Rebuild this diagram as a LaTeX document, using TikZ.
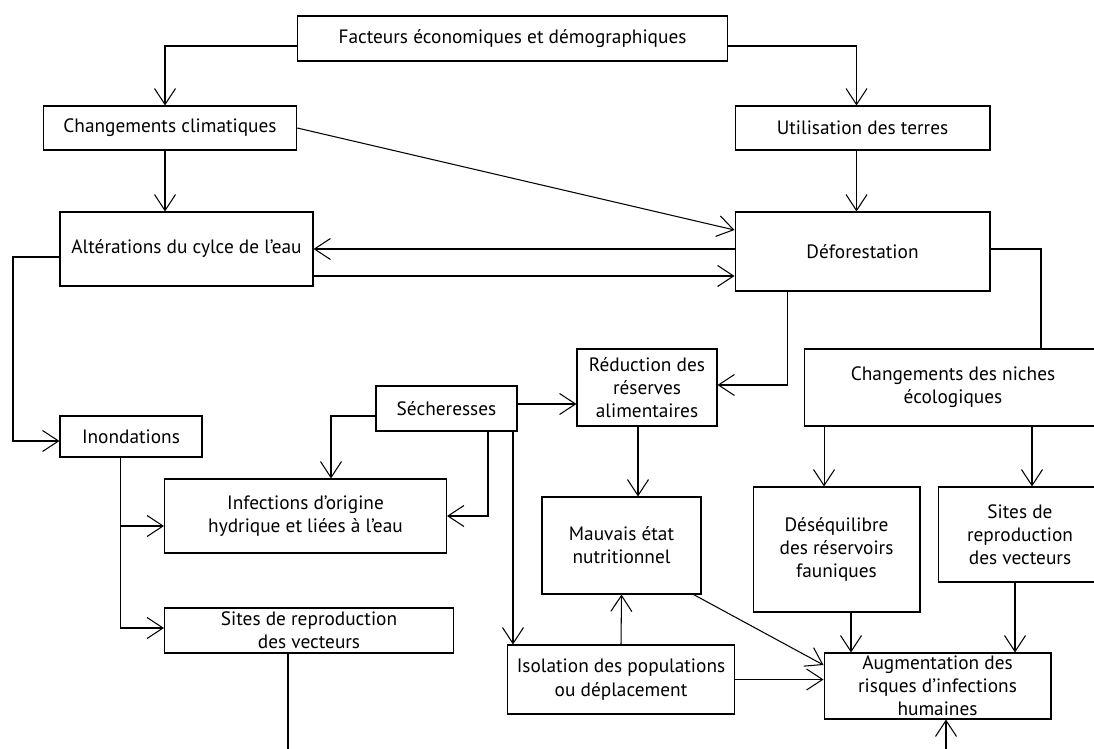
\documentclass[tikz,border=0pt]{standalone}
\usepackage{fontspec}
\setmainfont{PT Sans}
\usepackage{tikz}
\usetikzlibrary{arrows.meta, positioning, calc}
\tikzset{
	box/.style ={rectangle, draw=black, semithick, align=center, inner sep=2pt, font=\fontsize{11}{13.2}\selectfont},
	flow/.style={-{Straight Barb[length=3.2mm, width=4.2mm]}, semithick},
	link/.style={semithick},
}

\begin{document}
\begin{tikzpicture}[x=0.02cm, y=-0.02cm]
	\useasboundingbox (0,0) rectangle (1094,749);
	\clip (0,0) rectangle (1094,749);
	\node[box, minimum width=8.62cm, minimum height=0.9cm] (fact) at (512.5,38.5) {Facteurs économiques et démographiques};
	\node[box, minimum width=5.07cm, minimum height=0.88cm] (clim) at (170,128) {Changements climatiques};
	\node[box, minimum width=5.1cm, minimum height=0.88cm] (terres) at (862.5,128) {Utilisation des terres};
	\node[box, minimum width=5.06cm, minimum height=1.48cm] (alter) at (186.5,249) {Altérations du cylce de l’eau};
	\node[box, minimum width=5.1cm, minimum height=1.58cm] (defor) at (862.5,251.5) {Déforestation};
	\node[box, minimum width=2.8cm, minimum height=1.54cm, inner sep=0pt] (reduc) at (647,387.5) {Réduction des\\réserves\\alimentaires};
	\node[box, minimum width=5.96cm, minimum height=1.54cm] (niches) at (953,387.5) {Changements des niches\\écologiques};
	\node[box, minimum width=2.82cm, minimum height=0.9cm] (sech) at (446.5,408.5) {Sécheresses};
	\node[box, minimum width=2.84cm, minimum height=0.82cm] (inond) at (131,436.5) {Inondations};
	\node[box, minimum width=5.64cm, minimum height=1.48cm] (infect) at (305.5,516) {Infections d’origine\\hydrique et liées à l’eau};
	\node[box, minimum width=5.78cm, minimum height=0.9cm, inner sep=0pt] (sitesA) at (309,630.5) {Sites de reproduction\\des vecteurs};
	\node[box, minimum width=3.18cm, minimum height=1.94cm] (mauv) at (621.5,545.5) {Mauvais état\\nutritionnel};
	\node[box, minimum width=3.34cm, minimum height=2.5cm] (desequ) at (836.5,549.5) {Déséquilibre\\des réservoirs\\fauniques};
	\node[box, minimum width=3.28cm, minimum height=1.9cm] (sitesB) at (1020,534.5) {Sites de\\reproduction\\des vecteurs};
	\node[box, minimum width=4.55cm, minimum height=1.38cm] (isol) at (621,679.5) {Isolation des populations\\ou déplacement};
	\node[box, minimum width=4.54cm, minimum height=1.32cm, inner sep=0pt] (augm) at (937.5,686) {Augmentation des\\risques d’infections\\humaines};

	\draw[flow] ([yshift=-0.15cm]fact.west) -| ([xshift=-0.1cm]clim.north);
	\draw[flow] ([yshift=-0.15cm]fact.east) -| ([xshift=-0.12cm]terres.north);
	\coordinate (c1) at ([xshift=-0.1cm]clim.south);
	\draw[flow] (c1) -- (c1 |- alter.north);
	\coordinate (c2) at ([xshift=-0.12cm]terres.south);
	\draw[flow] (c2) -- (c2 |- defor.north);
	\draw[flow] (clim.east) -- ([yshift=0.43cm]defor.west);
	\draw[flow] (defor.west |- alter.east) -- (alter.east);
	\coordinate (c3) at ([yshift=-0.54cm]alter.east);
	\draw[flow] (c3) -- (c3 -| defor.west);
	\draw[flow] ([yshift=-0.16cm]alter.west) -- ++(-0.93cm,0) |- ([yshift=-0.09cm]inond.west);
	\draw[link] ([yshift=0.05cm]defor.east) -| ([xshift=1.76cm]niches.north);
	\draw[flow] ([xshift=-1.51cm]defor.south) |- ([yshift=0.05cm]reduc.east);
	\coordinate (c4) at ([yshift=0.09cm]sech.east);
	\draw[flow] (c4) -- (c4 -| reduc.west);
	\draw[flow] ([yshift=-0.15cm]sech.west) -| ([xshift=0.51cm]infect.north);
	\draw[flow] ([xshift=0.83cm]sech.south) |- (infect.east);
	\coordinate (c5) at ([xshift=1.33cm]sech.south);
	\draw[flow] (c5) -- (c5 |- isol.north);
	\coordinate (c6) at ([xshift=-0.21cm]inond.south);
	\draw[flow] (c6) |- ([yshift=0.05cm]sitesA.west);
	\coordinate (c7) at ([yshift=-0.2cm]infect.west);
	\draw[flow] (c6 |- c7) -- (c7);
	\coordinate (bas1) at (288,760);
	\draw[link] (sitesA.south -| bas1) -- (bas1);
	\coordinate (c8) at ([xshift=-0.18cm]reduc.south);
	\draw[flow] (c8) -- (c8 |- mauv.north);
	\draw[flow] (isol.north) -- (mauv.south);
	\draw[flow] ([xshift=-0.16cm]mauv.south east) -- ([yshift=0.42cm]augm.west);
	\draw[flow] (isol.east) -- (isol.east -| augm.west);
	\coordinate (c9) at ([xshift=-2.58cm]niches.south);
	\draw[flow] (c9) -- (c9 |- desequ.north);
	\coordinate (c10) at ([xshift=1.58cm]niches.south);
	\draw[flow] (c10) -- (c10 |- sitesB.north);
	\coordinate (c11) at ([xshift=0.29cm]desequ.south);
	\draw[flow] (c11) -- (c11 |- augm.north);
	\coordinate (c12) at ([xshift=-0.1cm]sitesB.south);
	\draw[flow] (c12) -- (c12 |- augm.north);
	\coordinate (bas2) at (946,760);
	\draw[flow] (bas2) -- (bas2 |- augm.south);
\end{tikzpicture}
\end{document}
